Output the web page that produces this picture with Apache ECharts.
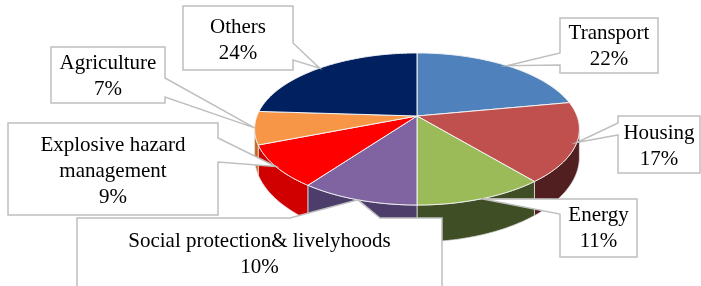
<!DOCTYPE html>
<html>
<head>
<meta charset="utf-8">
<script src="https://cdn.jsdelivr.net/npm/echarts@6/dist/echarts.min.js"></script>
<style>
html, body { margin: 0; padding: 0; background: #fff; }
#main { width: 701px; height: 286px; }
</style>
</head>
<body>
<div id="main"></div>
<script>
// data, clockwise from 12 o'clock
var names = ['Transport', 'Housing', 'Energy', 'Social protection& livelyhoods', 'Explosive hazard\nmanagement', 'Agriculture', 'Others'];
var values = [22, 17, 11, 10, 9, 7, 24];

var topColors = ['#4f81bd', '#c0504d', '#9bbb59', '#8064a2', '#ff0000', '#f79646', '#002060'];
var sideColors = ['#2c4a70', '#511f1f', '#3f4e24', '#4c3d6a', '#d10000', '#c06a20', '#001540'];

// callout boxes: x1, y1, x2, y2, side of the pointer, pointer base from / to, text centre y
var callouts = [
    [560, 18, 658, 73, 'left', 53, 65, 46],
    [618, 116, 700, 173, 'left', 123, 135, 146],
    [560, 199, 637, 257, 'left', 199, 214, 228],
    [77, 218, 442, 300, 'top', 290, 380, 254],
    [8, 123, 218, 215, 'right', 138, 162, 171],
    [51, 47, 165, 103, 'right', 78, 97, 76],
    [183, 6, 293, 70, 'right', 43, 60, 40]
];

// tilted pie projection
var CX = 417, CY = 116, A = 160, B = 73.8, K = 0.171, H0 = 27, K2 = 0.27;
var FRONT0 = Math.acos(-K), FRONT1 = 2 * Math.PI - Math.acos(-K);

var total = values.reduce(function(s, v) { return s + v; }, 0);
var starts = [];
var acc = 0;
values.forEach(function(v) { starts.push(acc); acc += v; });

function proj(t, r, drop) {
    var u = Math.sin(t) * r, v = Math.cos(t) * r;
    var d = 1 + K * v;
    var x = CX + A * u / d;
    var y = CY - B * v / d;
    if (drop) y += H0 / (1 + K2 * v);
    return [x, y];
}

function arc(t0, t1, drop) {
    var n = Math.max(2, Math.ceil(Math.abs(t1 - t0) / 0.01));
    var pts = [];
    for (var j = 0; j <= n; j++) {
        pts.push(proj(t0 + (t1 - t0) * j / n, 1, drop));
    }
    return pts;
}

function calloutPoints(c, tip) {
    var x1 = c[0], y1 = c[1], x2 = c[2], y2 = c[3], side = c[4], a = c[5], b = c[6];
    var pts = [[x1, y1]];
    if (side === 'top') pts.push([a, y1], tip, [b, y1]);
    pts.push([x2, y1]);
    if (side === 'right') pts.push([x2, a], tip, [x2, b]);
    pts.push([x2, y2], [x1, y2]);
    if (side === 'left') pts.push([x1, b], tip, [x1, a]);
    return pts;
}

function renderItem(params, api) {
    var i = params.dataIndex;
    var val = api.value(0);
    var a0 = starts[i] / total * 2 * Math.PI;
    var a1 = (starts[i] + val) / total * 2 * Math.PI;
    var children = [];

    // side wall, only the part facing the viewer
    var w0 = Math.max(a0, FRONT0), w1 = Math.min(a1, FRONT1);
    if (w1 > w0) {
        children.push({
            type: 'polygon',
            z2: 1,
            shape: { points: arc(w0, w1, false).concat(arc(w1, w0, true)) },
            style: { fill: sideColors[i], stroke: '#e0e0e0', lineWidth: 0.8 }
        });
    }

    // top face
    children.push({
        type: 'polygon',
        z2: 5,
        shape: { points: [proj(0, 0, false)].concat(arc(a0, a1, false)) },
        style: { fill: topColors[i], stroke: '#f2f2f2', lineWidth: 1 }
    });

    // callout box
    var c = callouts[i];
    var tip = proj((a0 + a1) / 2, 1, false);
    children.push({
        type: 'polygon',
        z2: 10,
        shape: { points: calloutPoints(c, tip) },
        style: { fill: '#fff', stroke: '#bfbfbf', lineWidth: 1.5 }
    });
    children.push({
        type: 'text',
        z2: 11,
        style: {
            text: names[i] + '\n' + Math.round(val / total * 100) + '%',
            x: (c[0] + c[2]) / 2,
            y: c[7],
            align: 'center',
            verticalAlign: 'middle',
            fill: '#000',
            fontSize: 21,
            lineHeight: 26,
            fontFamily: '"Liberation Serif", "Times New Roman", serif'
        }
    });
    return { type: 'group', children: children };
}

var myChart = echarts.init(document.getElementById('main'));
myChart.setOption({
    animation: false,
    series: [{
        type: 'custom',
        coordinateSystem: 'none',
        renderItem: renderItem,
        data: values
    }]
});
</script>
</body>
</html>
